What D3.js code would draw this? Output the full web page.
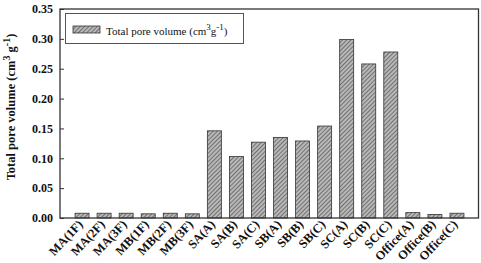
<!DOCTYPE html>
<html><head><meta charset="utf-8">
<script src="https://cdn.jsdelivr.net/npm/d3@7"></script>
<style>body{margin:0;background:#fff}svg{display:block}text{font-family:"Liberation Serif","Times New Roman",serif}</style>
</head><body>
<script>
const categories = ["MA(1F)","MA(2F)","MA(3F)","MB(1F)","MB(2F)","MB(3F)","SA(A)","SA(B)","SA(C)","SB(A)","SB(B)","SB(C)","SC(A)","SC(B)","SC(C)","Office(A)","Office(B)","Office(C)"];
const poreVolume = [0.008,0.008,0.008,0.007,0.008,0.007,0.146,0.103,0.127,0.135,0.129,0.154,0.299,0.258,0.278,0.009,0.006,0.008];
const yTicks = [0,0.05,0.10,0.15,0.20,0.25,0.30,0.35];
const seriesName = "Total pore volume";

const W = 481, H = 263;
const m = {l:60, r:2, t:9, b:45};
const FF = '"Liberation Serif","Times New Roman",serif';
const svg = d3.select("body").append("svg").attr("width",W).attr("height",H);
const defs = svg.append("defs");
const pat = defs.append("pattern").attr("id","hatch").attr("patternUnits","userSpaceOnUse")
  .attr("width",3).attr("height",3).attr("patternTransform","rotate(45)");
pat.append("rect").attr("width",3).attr("height",3).attr("fill","#b8b8b8");
pat.append("line").attr("x1",0).attr("y1",0).attr("x2",0).attr("y2",3).attr("stroke","#404040").attr("stroke-width",1.2);

const x = d3.scalePoint().domain(categories).range([m.l, W-m.r]).padding(1);
const y = d3.scaleLinear().domain([0,0.35]).range([H-m.b, m.t]);
const bw = 14;

svg.append("g").selectAll("rect").data(categories).join("rect")
  .attr("x", d=>x(d)-bw/2).attr("width", bw)
  .attr("y", (d,i)=>y(poreVolume[i])).attr("height",(d,i)=>y(0)-y(poreVolume[i]))
  .attr("fill","url(#hatch)").attr("stroke","#333").attr("stroke-width",0.8);

// y axis
const ya = svg.append("g").attr("transform",`translate(${m.l},0)`)
  .call(d3.axisLeft(y).tickValues(yTicks).tickFormat(d3.format(".2f")).tickSize(-4).tickPadding(7));
ya.select(".domain").remove();
ya.selectAll("line").attr("stroke","#333");
ya.selectAll("text").attr("font-size",12).attr("font-weight","bold").attr("fill","#111")
  .style("font-family",FF);

// x labels
const xa = svg.append("g").attr("transform",`translate(0,${y(0)})`)
  .call(d3.axisBottom(x).tickSize(0).tickPadding(0));
xa.select(".domain").remove();
xa.selectAll("text").attr("font-size",12.5).attr("font-weight","bold").attr("fill","#111")
  .style("font-family",FF)
  .attr("text-anchor","end").attr("dy",null).attr("y",0)
  .attr("transform","translate(1,7) rotate(-47)");

// frame
svg.append("rect").attr("x",m.l).attr("y",m.t).attr("width",W-m.r-m.l-0.5).attr("height",y(0)-m.t)
  .attr("fill","none").attr("stroke","#333").attr("stroke-width",1.3);

// y title
const yt = svg.append("text").attr("transform",`translate(15,107) rotate(-90)`)
  .attr("text-anchor","middle").attr("font-size",12.5).attr("font-weight","bold").attr("fill","#111")
  .style("font-family",FF);
yt.append("tspan").text("Total pore volume (cm");
yt.append("tspan").attr("dy",-5).attr("font-size",10).text("3");
yt.append("tspan").attr("dy",5).text(" g");
yt.append("tspan").attr("dy",-5).attr("font-size",10).text("-1");
yt.append("tspan").attr("dy",5).text(")");

// legend
const lg = svg.append("g");
lg.append("rect").attr("x",65.5).attr("y",13.5).attr("width",178).attr("height",30)
  .attr("fill","#fff").attr("stroke","#555").attr("stroke-width",1);
lg.append("rect").attr("x",73).attr("y",26).attr("width",27).attr("height",7)
  .attr("fill","url(#hatch)").attr("stroke","#333").attr("stroke-width",0.8);
const lt = lg.append("text").attr("x",106).attr("y",35).attr("font-size",11).attr("fill","#111").style("font-family",FF);
lt.append("tspan").text(seriesName + " (cm");
lt.append("tspan").attr("dy",-5).attr("font-size",9).text("3");
lt.append("tspan").attr("dy",5).text("g");
lt.append("tspan").attr("dy",-5).attr("font-size",9).text("-1");
lt.append("tspan").attr("dy",5).text(")");
</script>
</body></html>
